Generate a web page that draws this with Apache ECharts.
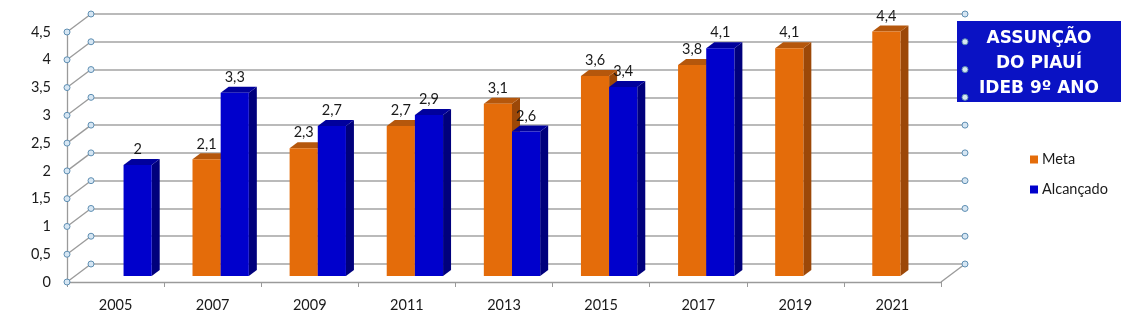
<!DOCTYPE html>
<html>
<head>
<meta charset="utf-8">
<script src="https://cdn.jsdelivr.net/npm/echarts@6/dist/echarts.min.js"></script>
<style>html,body{margin:0;padding:0;background:#fff;}#c{width:1121px;height:324px;}</style>
</head>
<body>
<div id="c"></div>
<script>
const categories = ['2005','2007','2009','2011','2013','2015','2017','2019','2021'];
const metaValues = [null, 2.1, 2.3, 2.7, 3.1, 3.6, 3.8, 4.1, 4.4];
const alcancadoValues = [2, 3.3, 2.7, 2.9, 2.6, 3.4, 4.1, null, null];
const yTickValues = [0, 0.5, 1, 1.5, 2, 2.5, 3, 3.5, 4, 4.5];
const seriesNames = ['Meta', 'Alcançado'];
const titleLines = ['ASSUNÇÃO', 'DO PIAUÍ', 'IDEB 9º ANO'];

const FONT = 'Lato';
const TXT = '#1a1a1a';
const FRONT = {left: 67, top: 32, width: 874, height: 250};
const DX = 24, DY = -18;           // depth of the floor
const BDX = DX / 3, BDY = DY / 3;  // depth of each bar
const palette = [
  {front: '#E46C0A', top: '#B5570C', side: '#9C4808'},
  {front: '#0000CC', top: '#00009C', side: '#00007C'}
];
const fmt = v => String(v).replace('.', ',');

const chart = echarts.init(document.getElementById('c'), null, {renderer: 'canvas'});

function barRender(si) {
  return function (params, api) {
    const xi = api.value(0), v = api.value(1);
    const band = api.size([1, 0])[0];
    const bw = band * 0.29;
    const t = api.coord([xi, v]);
    const b = api.coord([xi, 0]);
    const x = t[0] - bw + si * bw;
    const top = t[1], base = b[1];
    const c = palette[si];
    return {
      type: 'group',
      children: [
        {type: 'polygon', shape: {points: [[x + bw, top], [x + bw + BDX, top + BDY], [x + bw + BDX, base + BDY], [x + bw, base]]}, style: {fill: c.side}},
        {type: 'polygon', shape: {points: [[x, top], [x + BDX, top + BDY], [x + bw + BDX, top + BDY], [x + bw, top]]}, style: {fill: c.top}},
        {type: 'rect', shape: {x: x, y: top, width: bw, height: base - top}, style: {fill: c.front}},
        {type: 'text', style: {text: fmt(v), x: x + bw / 2, y: top + BDY - 2, align: 'center', verticalAlign: 'bottom', fill: TXT, font: '14.5px ' + FONT}}
      ]
    };
  };
}

function handleRender(params, api) {
  const cs = params.coordSys;
  const v = api.value(1);
  const y = api.coord([0, v])[1];
  const x0 = cs.x, x1 = cs.x + cs.width;
  const hs = {fill: '#d6e6f3', stroke: '#5f8fb3', lineWidth: 1};
  const ch = [
    {type: 'line', shape: {x1: x0, y1: y, x2: x0 + DX, y2: y + DY}, style: {stroke: '#9a9a9a', lineWidth: 1.3}},
    {type: 'circle', shape: {cx: x0, cy: y, r: 3}, style: hs},
    {type: 'circle', shape: {cx: x0 + DX, cy: y + DY, r: 3}, style: hs},
    {type: 'circle', shape: {cx: x1 + DX, cy: y + DY, r: 3}, style: hs}
  ];
  if (v === 0) {
    ch.unshift({type: 'line', shape: {x1: x1, y1: y, x2: x1 + DX, y2: y + DY}, style: {stroke: '#9a9a9a', lineWidth: 1.3}});
  }
  return {type: 'group', children: ch};
}

const axisY = (idx, extra) => Object.assign({
  type: 'value', gridIndex: idx, min: 0, max: 4.5, interval: 0.5,
  axisLine: {show: false}, axisTick: {show: false}, axisLabel: {show: false}, splitLine: {show: false}
}, extra || {});
const axisX = (idx, extra) => Object.assign({
  type: 'category', gridIndex: idx, data: categories,
  axisLine: {show: false}, axisTick: {show: false}, axisLabel: {show: false}, splitLine: {show: false}
}, extra || {});

chart.setOption({
  animation: false,
  backgroundColor: '#ffffff',
  textStyle: {fontFamily: FONT},
  title: {
    left: 957, top: 17, z: 1, zlevel: 0,
    text: titleLines.map(s => '{a|' + s + '}').join('\n'),
    backgroundColor: '#0A12C4',
    padding: [9, 8, 5, 8],
    textStyle: {
      rich: {a: {width: 148, align: 'center', color: '#ffffff', fontFamily: 'DejaVu Sans', fontWeight: 'bold', fontSize: 17, lineHeight: 25}}
    }
  },
  legend: {
    orient: 'vertical', left: 1025, top: 147, itemWidth: 8, itemHeight: 8, itemGap: 15,
    icon: 'rect', data: seriesNames,
    textStyle: {fontSize: 14.5, color: TXT, fontFamily: FONT, padding: [0, 0, 0, -1]}
  },
  grid: [
    {left: FRONT.left, top: FRONT.top, width: FRONT.width, height: FRONT.height},
    {left: FRONT.left + DX, top: FRONT.top + DY, width: FRONT.width, height: FRONT.height},
    {left: FRONT.left + BDX, top: FRONT.top + BDY, width: FRONT.width, height: FRONT.height}
  ],
  xAxis: [
    axisX(0, {
      axisLine: {show: true, lineStyle: {color: '#9a9a9a', width: 1.3}},
      axisTick: {show: true, length: 5, interval: 0, lineStyle: {color: '#9a9a9a'}},
      axisLabel: {show: true, interval: 0, fontSize: 14.5, color: TXT, margin: 16, fontFamily: FONT}
    }),
    axisX(1),
    axisX(2)
  ],
  yAxis: [
    axisY(0, {
      axisLine: {show: true, lineStyle: {color: '#9a9a9a', width: 1.3}},
      axisLabel: {show: true, fontSize: 14.5, color: TXT, margin: 16, fontFamily: FONT, formatter: v => fmt(v)}
    }),
    axisY(1, {splitLine: {show: true, lineStyle: {color: '#a3a3a3', width: 1.5}}}),
    axisY(2)
  ],
  series: [
    {
      type: 'custom', name: 'handles', xAxisIndex: 0, yAxisIndex: 0, z: 10,
      encode: {x: 0, y: 1}, silent: true,
      data: yTickValues.map(v => [0, v]),
      renderItem: handleRender
    },
    {
      type: 'custom', name: seriesNames[0], xAxisIndex: 2, yAxisIndex: 2, z: 3,
      itemStyle: {color: palette[0].front},
      encode: {x: 0, y: 1},
      data: metaValues.map((v, i) => [i, v]).filter(d => d[1] != null),
      renderItem: barRender(0)
    },
    {
      type: 'custom', name: seriesNames[1], xAxisIndex: 2, yAxisIndex: 2, z: 4,
      itemStyle: {color: palette[1].front},
      encode: {x: 0, y: 1},
      data: alcancadoValues.map((v, i) => [i, v]).filter(d => d[1] != null),
      renderItem: barRender(1)
    }
  ]
});
</script>
</body>
</html>
